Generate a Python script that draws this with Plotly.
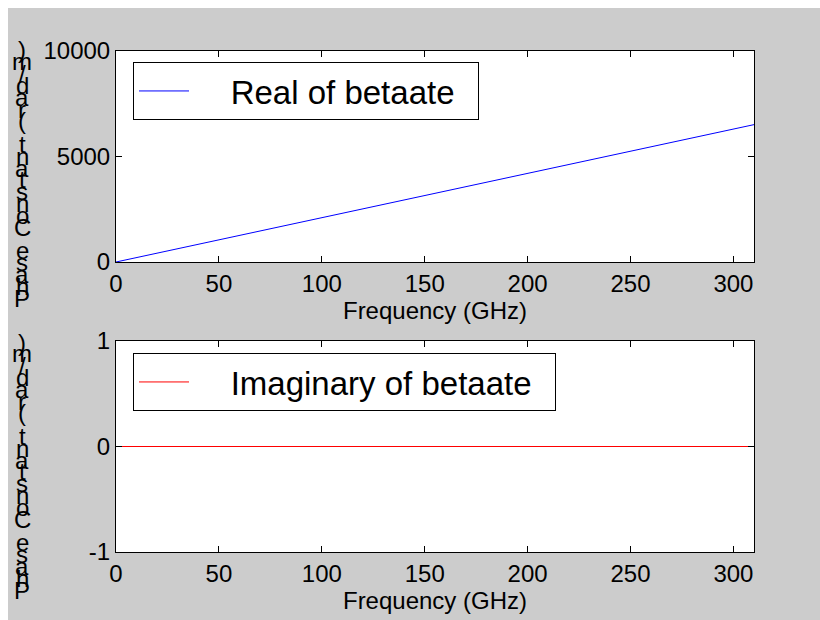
import plotly.graph_objects as go
from plotly.subplots import make_subplots

# Data
freq_ghz = [0, 50, 100, 150, 200, 250, 300, 310]
beta_real = [0, 1050, 2100, 3150, 4200, 5250, 6300, 6510]
beta_imag = [0, 0, 0, 0, 0, 0, 0, 0]

x_ticks = [0, 50, 100, 150, 200, 250, 300]
y_ticks_top = [0, 5000, 10000]
y_ticks_bottom = [-1, 0, 1]
y_ticktext_bottom = ["-1", "0", "1"]
x_title = "Frequency (GHz)"
y_title = "Phase Constant (rad/m)"
names = ["Real of betaate", "Imaginary of betaate"]

OFF = 8  # page body margin (left/top)
W, H = 820 - OFF, 620 - OFF
# plot area in screen pixels
L, R, T, B = 116, 754, 51, 552

FONT = "Arial, Liberation Sans, sans-serif"
NB = "\u00a0"

fig = make_subplots(rows=2, cols=1, vertical_spacing=(341 - 262) / (B - T))

fig.add_trace(go.Scatter(x=freq_ghz, y=beta_real, mode="lines", name=NB * 4 + names[0] + NB * 2,
                         line=dict(color="#0000ff", width=1), legend="legend"), row=1, col=1)
fig.add_trace(go.Scatter(x=freq_ghz, y=beta_imag, mode="lines", name=NB * 4 + names[1] + NB * 2,
                         line=dict(color="#ff0000", width=1), legend="legend2"), row=2, col=1)

axis_common = dict(showline=True, linecolor="black", linewidth=1, mirror="ticks",
                   ticks="inside", ticklen=6, tickcolor="black", showgrid=False,
                   zeroline=False, tickfont=dict(family=FONT, size=24, color="black"))

for r in (1, 2):
    fig.update_xaxes(range=[0, 310], tickvals=x_ticks, title=dict(text=x_title, standoff=2,
                     font=dict(family=FONT, size=24, color="black")), row=r, col=1, **axis_common)
fig.update_yaxes(range=[0, 10000], tickvals=y_ticks_top, tickformat="d", row=1, col=1, **axis_common)
fig.update_yaxes(range=[-1, 1], tickvals=y_ticks_bottom, ticktext=y_ticktext_bottom,
                 row=2, col=1, **axis_common)

def px_x(p):
    return (p - L) / (R - L)

def px_y(p):
    return (B - p) / (B - T)

# Stacked-character y axis label, as in the reference
annotations = []
chars = list(y_title)
n = len(chars)
for panel_top in (50, 342):
    top_c, bot_c = panel_top, panel_top + 248
    step = (bot_c - top_c) / (n - 1)
    for i, ch in enumerate(chars):
        yc = bot_c - i * step
        if ch == " ":
            continue
        annotations.append(dict(text=ch, x=px_x(22), y=px_y(yc), xref="paper", yref="paper",
                                xanchor="center", yanchor="middle", showarrow=False,
                                font=dict(family=FONT, size=24, color="black")))

legend_common = dict(xanchor="left", yanchor="top", bgcolor="white", bordercolor="black",
                     borderwidth=1, font=dict(family=FONT, size=33, color="black"), itemwidth=50)

fig.update_layout(
    width=W, height=H,
    margin=dict(l=L - OFF, r=W - (R - OFF), t=T - OFF, b=H - (B - OFF)),
    paper_bgcolor="#cccccc", plot_bgcolor="white",
    annotations=annotations,
    showlegend=True,
    legend=dict(x=px_x(133), y=px_y(62), **legend_common),
    legend2=dict(x=px_x(133), y=px_y(353), **legend_common),
)

fig.write_html(
    "out.html",
    post_script="document.body.style.margin='8px 0 0 8px';document.body.style.overflow='hidden';",
)
